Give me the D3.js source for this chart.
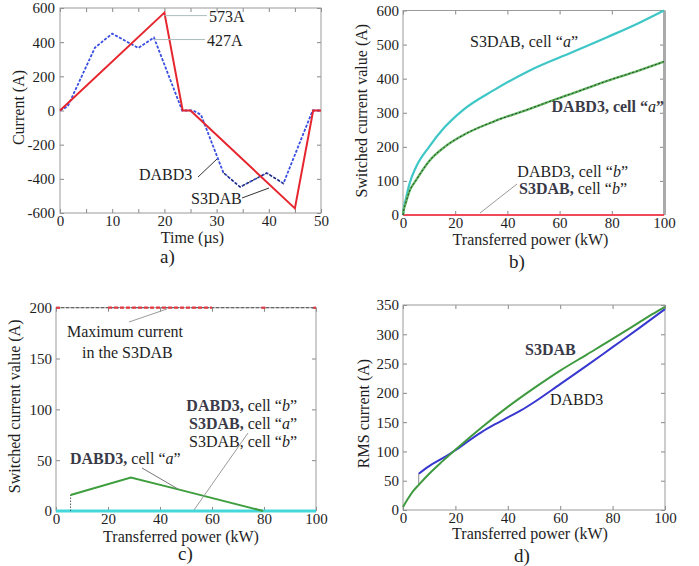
<!DOCTYPE html>
<html><head><meta charset="utf-8">
<script src="https://cdn.jsdelivr.net/npm/d3@7"></script>
<style>
body{margin:0;background:#fff}
svg text{font-family:"Liberation Serif","DejaVu Serif","Times New Roman",Times,serif;fill:#1e1e1e}
</style>
</head><body>
<svg id="fig" width="699" height="566"></svg>
<script>
// ---------- DATA ----------
// a) current waveforms
const aTicksX=[0,5,10,15,20,25,30,35,40,45,50];
const aTicksY=[-600,-400,-200,0,200,400,600];
const aS3DAB=[[0,0],[20,573],[23.5,0],[25,0],[45,-573],[48.5,0],[50,0]];
const aDABD3=[[0,0],[1.5,25],[6.7,368],[10,450],[15,366],[18,427],[23.4,0],[25.5,0],[27,-25],[31.3,-364],[34.5,-448],[39.6,-366],[42.8,-427],[48.4,0],[50,0]];
const aPeaks=[573,427];
// b) switched current vs power
const bTicksX=[0,20,40,60,80,100];
const bTicksY=[0,100,200,300,400,500,600];
const bS3DABa=[[0,0],[0.3,20],[1,44],[2.5,92],[5,141],[10,200],[16,258],[22.5,305],[35,367],[48,422],[65,478],[78,521],[90,562],[100,600]];
const bDABD3a=[[0,0],[0.3,15],[1,34],[2.5,70],[5,102],[10,158],[16,200],[22.5,232],[35,275],[48,310],[55,330],[65,357],[78,393],[90,423],[100,450]];
const bCellB=[[0,0],[100,0]];
// c) switched current (other case)
const cTicksX=[0,20,40,60,80,100];
const cTicksY=[0,50,100,150,200];
const cMax=[[0,200],[100,200]];
const cMaxRed=[[0,2],[20,60],[79,81],[99,100]];
const cDABD3a=[[5.6,15.7],[28.8,33],[47,21.3],[79.7,0]];
const cStep=[[5.6,0],[5.6,15.7]];
const cZero=[[0,0],[100,0]];
// d) RMS current
const dTicksX=[0,20,40,60,80,100];
const dTicksY=[0,50,100,150,200,250,300,350];
const dS3DAB=[[0,5],[2,20],[4,33],[6,43],[10,62],[15,83],[20,103],[30,141],[40,176],[50,208],[60,238],[70,265],[80,292],[90,320],[95,334],[100,347]];
const dDABD3=[[6,62],[10,75],[15,88],[20,102],[25,118],[30,133],[35,146],[40,158],[45,170],[50,184],[60,215],[70,246],[80,278],[90,310],[100,343]];
const dStep=[[6,43],[6,62]];

// ---------- DRAW ----------
const svg=d3.select('#fig');
const FONT=15;
const FF='"Liberation Serif","DejaVu Serif","Times New Roman",Times,serif';

function panel(o){
  const g=svg.append('g');
  const x=d3.scaleLinear().domain(o.xd).range([o.l,o.r]);
  const y=d3.scaleLinear().domain(o.yd).range([o.b,o.t]);
  const fmtX=o.fmtX||(d=>String(d));
  const bottom=g.append('g').attr('transform',`translate(0,${o.b})`)
    .call(d3.axisBottom(x).tickValues(o.xt).tickSizeInner(-4).tickSizeOuter(0).tickPadding(2.5).tickFormat(fmtX));
  const top=g.append('g').attr('transform',`translate(0,${o.t})`)
    .call(d3.axisTop(x).tickValues(o.xt).tickSizeInner(-4).tickSizeOuter(0).tickFormat(''));
  const left=g.append('g').attr('transform',`translate(${o.l},0)`)
    .call(d3.axisLeft(y).tickValues(o.yt).tickSizeInner(-4).tickSizeOuter(0).tickPadding(o.pad).tickFormat(d=>String(d)));
  const right=g.append('g').attr('transform',`translate(${o.r},0)`)
    .call(d3.axisRight(y).tickValues(o.yt).tickSizeInner(-4).tickSizeOuter(0).tickFormat(''));
  [bottom,top,left,right].forEach(a=>{
    a.attr('font-family',FF);
    a.select('.domain').remove();
    a.selectAll('line').attr('stroke','#888');
    a.selectAll('text').attr('font-size',FONT).attr('fill','#1e1e1e');
  });
  left.selectAll('text').attr('dy','0.33em');
  g.append('rect').attr('x',o.l).attr('y',o.t).attr('width',o.r-o.l).attr('height',o.b-o.t)
    .attr('fill','none').attr('stroke','#9a9a9a').attr('stroke-width',1);
  const line=d3.line().x(d=>x(d[0])).y(d=>y(d[1]));
  g.append('text').attr('x',(o.l+o.r)/2+o.xtOff).attr('y',o.b+o.xtY).attr('text-anchor','middle')
    .attr('font-size',16).text(o.xTitle);
  g.append('text').attr('transform',`translate(${o.ytX},${(o.t+o.b)/2+o.ytOff}) rotate(-90)`)
    .attr('text-anchor','middle').attr('font-size',16).text(o.yTitle);
  g.append('text').attr('x',o.lblX).attr('y',o.lblY).attr('font-size',19).text(o.lbl);
  return {g,x,y,line};
}

function rich(g,x,y,parts,anchor){
  const t=g.append('text').attr('x',x).attr('y',y).attr('font-size',16).attr('text-anchor',anchor||'start');
  parts.forEach(p=>{
    const s=t.append('tspan').text(p[0]);
    if(p[1]==='i') s.attr('font-style','italic');
    if(p[1]==='b') s.attr('font-weight','bold').attr('fill','#3a3a48');
  });
  return t;
}
function leader(g,x1,y1,x2,y2,c){
  g.append('line').attr('x1',x1).attr('y1',y1).attr('x2',x2).attr('y2',y2)
   .attr('stroke',c||'#9a9a9a').attr('stroke-width',1);
}

// ----- a) -----
{
  const P=panel({l:60,r:321,t:8,b:213,xd:[0,50],yd:[-600,600],xt:aTicksX,yt:aTicksY,pad:5,
    fmtX:d=>d%10===0?String(d):'',
    xTitle:'Time (\u00b5s)',xtOff:2,xtY:30,yTitle:'Current (A)',ytX:24,ytOff:-3,lbl:'a)',lblX:160,lblY:263});
  const {g,x,y,line}=P;
  g.append('path').datum(aDABD3).attr('d',line).attr('fill','none').attr('stroke','#3a4ee0')
    .attr('stroke-width',1.8).attr('stroke-dasharray','3,1.5');
  g.append('path').datum(aDABD3.filter(d=>d[0]>=31&&d[0]<=43)).attr('d',line).attr('fill','none')
    .attr('stroke','#222').attr('stroke-width',1).attr('stroke-dasharray','3,2');
  g.append('path').datum(aS3DAB).attr('d',line).attr('fill','none').attr('stroke','#e5262e').attr('stroke-width',2);
  const pk0=aS3DAB[1], pk1=aDABD3[5];
  leader(g,x(pk0[0]),y(aPeaks[0])+3,207,y(aPeaks[0])+3,'#a9bdbd');
  leader(g,x(pk1[0]),y(aPeaks[1])+2,205,y(aPeaks[1])+2,'#a9bdbd');
  g.append('text').attr('x',209).attr('y',y(aPeaks[0])+9).attr('font-size',16).text(aPeaks[0]+'A');
  g.append('text').attr('x',207).attr('y',y(aPeaks[1])+8).attr('font-size',16).text(aPeaks[1]+'A');
  rich(g,139,180,[['DABD3']]);
  leader(g,198,177,217,159,'#333');
  rich(g,191,204,[['S3DAB']]);
  leader(g,242,198,269,188,'#333');
}

// ----- b) -----
{
  const P=panel({l:403,r:664,t:10.5,b:215,xd:[0,100],yd:[0,600],xt:bTicksX,yt:bTicksY,pad:4,
    xTitle:'Transferred power (kW)',xtOff:-3,xtY:30,yTitle:'Switched current value (A)',ytX:367,ytOff:-2,lbl:'b)',lblX:509,lblY:268});
  const {g,x,y,line}=P;
  g.append('line').attr('x1',x(100)+0.5).attr('x2',x(100)+0.5).attr('y1',y(600)).attr('y2',y(0))
    .attr('stroke','#aaa').attr('stroke-width',3);
  const cl=d3.line().x(d=>x(d[0])).y(d=>y(d[1])).curve(d3.curveMonotoneX);
  g.append('path').datum(bCellB).attr('d',line).attr('fill','none').attr('stroke','#5a5ae0').attr('stroke-width',2).attr('stroke-dasharray','4,40');
  g.append('path').datum(bCellB).attr('d',line).attr('fill','none').attr('stroke','#ee4a58').attr('stroke-width',2.2);
  g.append('path').datum(bS3DABa).attr('d',cl).attr('fill','none').attr('stroke','#3fc6c6').attr('stroke-width',2.2);
  g.append('path').datum(bDABD3a).attr('d',cl).attr('fill','none').attr('stroke','#5fb85f').attr('stroke-width',2.4);
  g.append('path').datum(bDABD3a).attr('d',cl).attr('fill','none').attr('stroke','#2a3a2a').attr('stroke-width',1).attr('stroke-dasharray','2,2');
  rich(g,470,47,[['S3DAB, cell \u201c'],['a','i'],['\u201d']]);
  rich(g,664,112,[['DABD3, cell \u201c','b'],['a','i'],['\u201d','b']],'end');
  rich(g,628,177,[['DABD3, cell \u201c'],['b','i'],['\u201d']],'end');
  rich(g,627,194,[['S3DAB,','b'],[' cell \u201c'],['b','i'],['\u201d']],'end');
  leader(g,480,213,517,184);
}

// ----- c) -----
{
  const P=panel({l:56,r:316,t:307.7,b:511,xd:[0,100],yd:[0,200],xt:cTicksX,yt:cTicksY,pad:4,
    xTitle:'Transferred power (kW)',xtOff:-5,xtY:31,yTitle:'Switched current value (A)',ytX:20,ytOff:-3,lbl:'c)',lblX:178,lblY:560});
  const {g,x,y,line}=P;
  g.append('path').datum(cMax).attr('d',line).attr('fill','none').attr('stroke','#555').attr('stroke-width',1).attr('stroke-dasharray','3,2');
  cMaxRed.forEach(s=>{
    g.append('path').datum([[s[0],cMax[0][1]],[s[1],cMax[0][1]]]).attr('d',line).attr('fill','none')
      .attr('stroke','#e23a44').attr('stroke-width',2.2).attr('stroke-dasharray','4,2');
  });
  g.append('path').datum(cZero).attr('d',line).attr('fill','none').attr('stroke','#44d8dc').attr('stroke-width',3);
  g.append('path').datum(cStep).attr('d',line).attr('fill','none').attr('stroke','#555').attr('stroke-width',1).attr('stroke-dasharray','1.5,1.5');
  g.append('path').datum(cDABD3a).attr('d',line).attr('fill','none').attr('stroke','#3e9e3e').attr('stroke-width',2);
  g.append('text').attr('x',67).attr('y',337).attr('font-size',16).text('Maximum current');
  g.append('text').attr('x',82).attr('y',358).attr('font-size',16).text('in the S3DAB');
  leader(g,129,322,167,309);
  rich(g,297,411,[['DABD3,','b'],[' cell \u201c'],['b','i'],['\u201d']],'end');
  rich(g,297,429,[['S3DAB,','b'],[' cell \u201c'],['a','i'],['\u201d']],'end');
  rich(g,297,447,[['S3DAB, cell \u201c'],['b','i'],['\u201d']],'end');
  leader(g,194,510,248,433);
  rich(g,70,464,[['DABD3,','b'],[' cell \u201c'],['a','i'],['\u201d']]);
  leader(g,142,468,178,489,'#777');
}

// ----- d) -----
{
  const P=panel({l:403,r:665,t:305,b:510,xd:[0,100],yd:[0,350],xt:dTicksX,yt:dTicksY,pad:4,
    xTitle:'Transferred power (kW)',xtOff:-4,xtY:29,yTitle:'RMS current (A)',ytX:369,ytOff:6,lbl:'d)',lblX:514,lblY:562});
  const {g,x,y,line}=P;
  const cl=d3.line().x(d=>x(d[0])).y(d=>y(d[1])).curve(d3.curveMonotoneX);
  g.append('path').datum(dStep).attr('d',line).attr('fill','none').attr('stroke','#888').attr('stroke-width',1);
  g.append('path').datum(dDABD3).attr('d',cl).attr('fill','none').attr('stroke','#3838d0').attr('stroke-width',2);
  g.append('path').datum(dS3DAB).attr('d',cl).attr('fill','none').attr('stroke','#3f9a3f').attr('stroke-width',2);
  rich(g,525,355,[['S3DAB','b']]);
  rich(g,550,405,[['DABD3']]);
}
</script>
</body></html>
